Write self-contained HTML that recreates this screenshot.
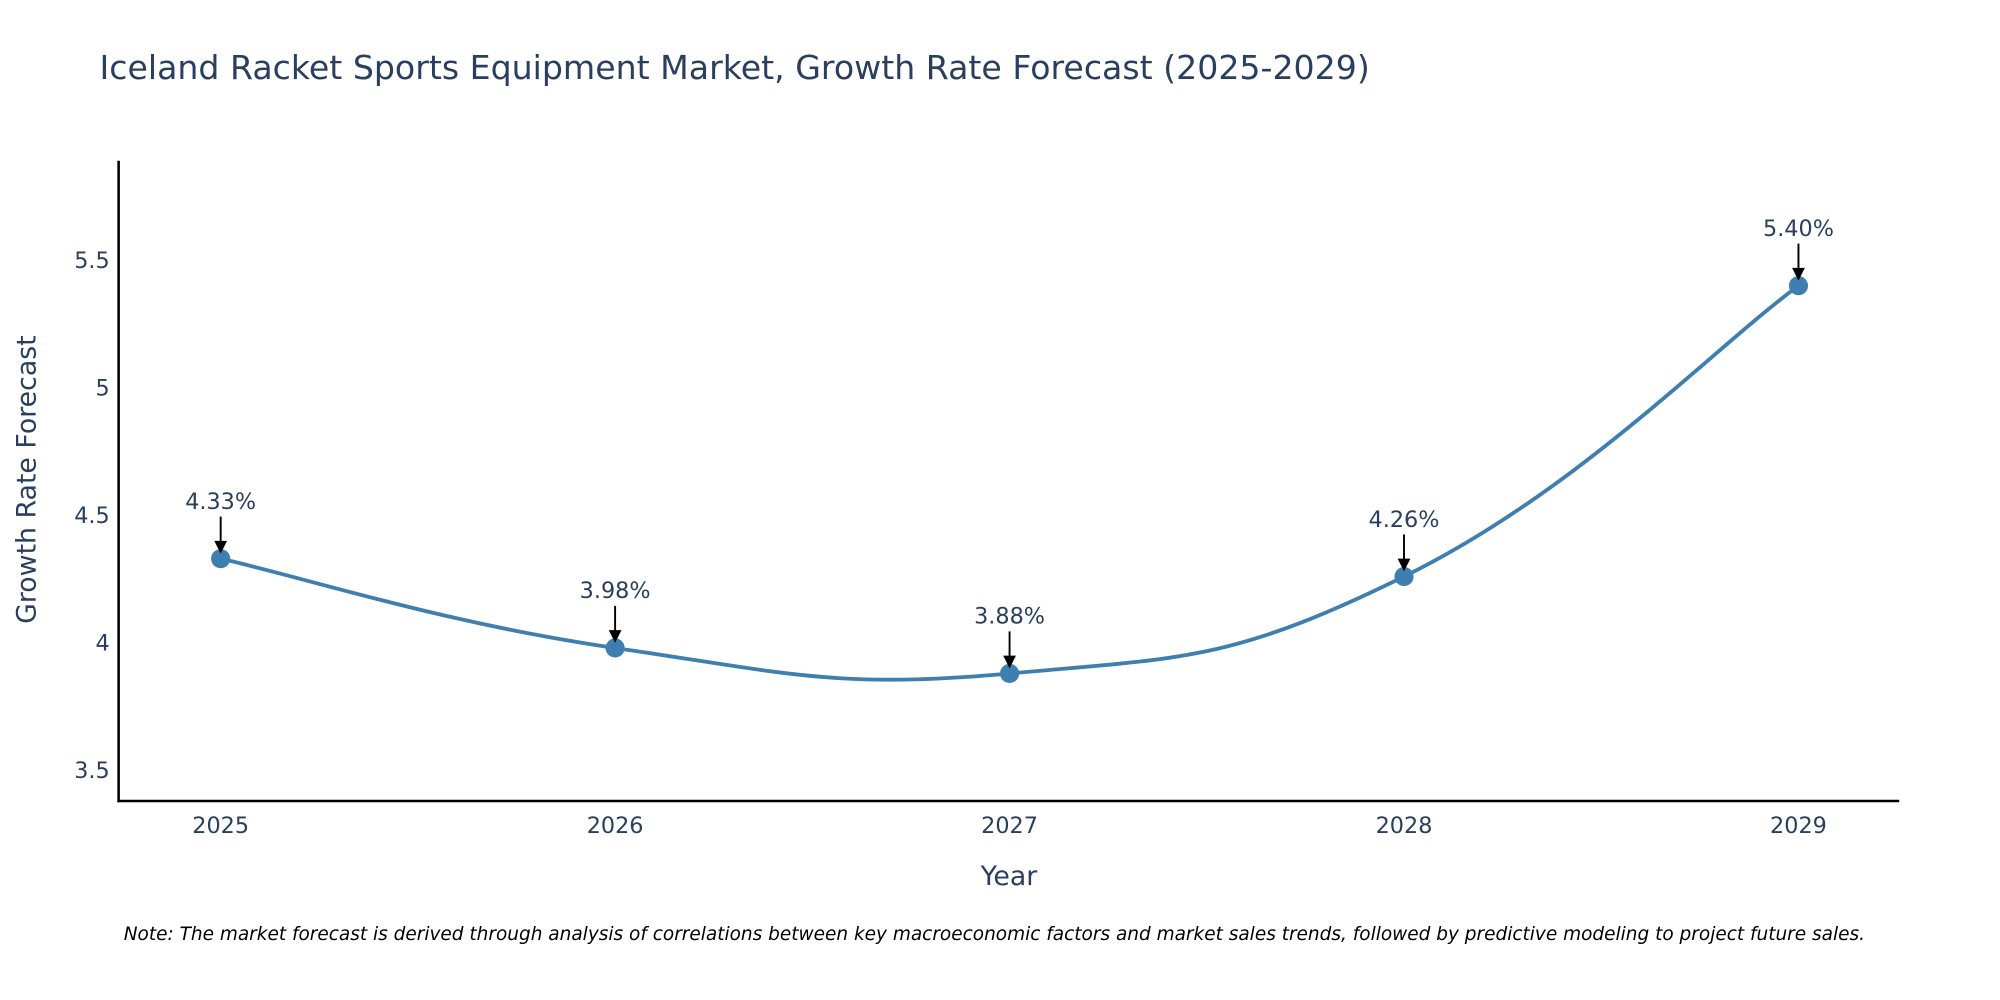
<!DOCTYPE html>
<html><head><meta charset="utf-8"><style>
html,body{margin:0;padding:0;background:#fff;width:2000px;height:1000px;overflow:hidden}
svg{display:block;font-family:"DejaVu Sans","Liberation Sans",sans-serif}
</style></head><body>
<svg id="chart" width="2000" height="1000" viewBox="0 0 1568 784" xmlns="http://www.w3.org/2000/svg">
<text x="78" y="62" font-size="26" fill="#2a3f5f">Iceland Racket Sports Equipment Market, Growth Rate Forecast (2025-2029)</text>
<g id="yticks"></g>
<g id="xticks"></g>
<line x1="93" y1="126" x2="93" y2="629" stroke="#000" stroke-width="2"/>
<line x1="92" y1="628" x2="1489" y2="628" stroke="#000" stroke-width="2"/>
<text transform="translate(28,376) rotate(-90)" text-anchor="middle" font-size="21" fill="#2a3f5f">Growth Rate Forecast</text>
<text x="791" y="694" text-anchor="middle" font-size="21" fill="#2a3f5f">Year</text>
<g id="series"></g>
<text x="97" y="737" font-size="14.5" font-style="italic" fill="#000">Note: The market forecast is derived through analysis of correlations between key macroeconomic factors and market sales trends, followed by predictive modeling to project future sales.</text>
</svg>
<script>
const years = [2025, 2026, 2027, 2028, 2029];
const growthValues = [4.33, 3.98, 3.88, 4.26, 5.40];
const yTickValues = [3.5, 4, 4.5, 5, 5.5];
const yTickLabels = ["3.5", "4", "4.5", "5", "5.5"];

const NS = "http://www.w3.org/2000/svg";
function xScale(yr){ return 173 + (yr - 2025) * 309.25; }
function yScale(v){ return 504 - (v - 4) * 200; }
function mk(tag, attrs){ const e=document.createElementNS(NS,tag); for(const k in attrs) e.setAttribute(k, attrs[k]); return e; }

const yt = document.getElementById('yticks');
yTickValues.forEach((v,i)=>{
  const t = mk('text',{x:86,y:yScale(v)+6,'text-anchor':'end','font-size':17.5,fill:'#2a3f5f'});
  
  
  t.textContent = yTickLabels[i];
  yt.appendChild(t);
});
const xt = document.getElementById('xticks');
years.forEach(yr=>{
  const t = mk('text',{x:xScale(yr),y:653,'text-anchor':'middle','font-size':17.5,fill:'#2a3f5f'});
  
  
  t.textContent = String(yr);
  xt.appendChild(t);
});

const g = document.getElementById('series');
const pts = years.map((yr,i)=>[xScale(yr), yScale(growthValues[i])]);
let d = `M${pts[0][0]},${pts[0][1]}`;
const s = 0.22;
for(let i=0;i<pts.length-1;i++){
  const p0 = pts[i-1]||pts[i], p1=pts[i], p2=pts[i+1], p3=pts[i+2]||pts[i+1];
  const c1=[p1[0]+(p2[0]-p0[0])*s, p1[1]+(p2[1]-p0[1])*s];
  const c2=[p2[0]-(p3[0]-p1[0])*s, p2[1]-(p3[1]-p1[1])*s];
  d += ` C${c1[0]},${c1[1]} ${c2[0]},${c2[1]} ${p2[0]},${p2[1]}`;
}
const line = mk('path',{d:d,fill:'none',stroke:'#3f7fb0','stroke-width':3});


g.appendChild(line);

pts.forEach((p,i)=>{
  const c = mk('circle',{cx:p[0],cy:p[1],r:7.5,fill:'#3f7fb0'});
  
  
  g.appendChild(c);
  const a = mk('line',{x1:p[0],y1:p[1]-33,x2:p[0],y2:p[1]-13,stroke:'#000','stroke-width':1.5});
  
  
  g.appendChild(a);
  const h = mk('polygon',{points:`${p[0]-5},${p[1]-14} ${p[0]+5},${p[1]-14} ${p[0]},${p[1]-4}`,fill:'#000'});
  
  
  g.appendChild(h);
  const t = mk('text',{x:p[0],y:p[1]-39,'text-anchor':'middle','font-size':17.5,fill:'#2a3f5f'});
  
  
  t.textContent = growthValues[i].toFixed(2) + '%';
  g.appendChild(t);
});
</script>
</body></html>
